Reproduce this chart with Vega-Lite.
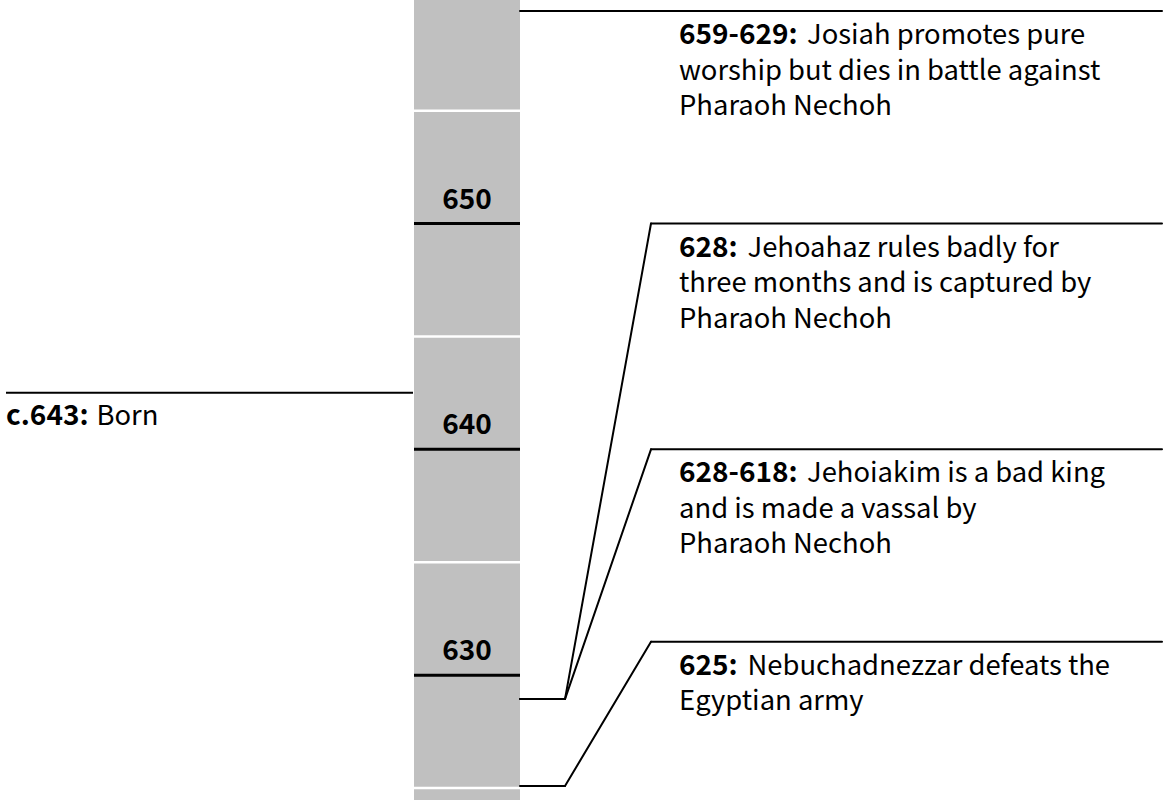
{
  "$schema": "https://vega.github.io/schema/vega-lite/v6.json",
  "width": 1171,
  "height": 800,
  "autosize": {"type": "fit", "contains": "padding"},
  "padding": 0,
  "background": "white",
  "config": {
    "view": {"stroke": null},
    "text": {"font": "Noto Sans CJK KR", "fontSize": 28, "color": "black"}
  },
  "datasets": {
    "segments": [
      {"start": 620, "end": 625}, {"start": 625, "end": 630}, {"start": 630, "end": 635},
      {"start": 635, "end": 640}, {"start": 640, "end": 645}, {"start": 645, "end": 650},
      {"start": 650, "end": 655}, {"start": 655, "end": 660}
    ],
    "marks": [
      {"year": 625, "kind": "half", "label": ""},
      {"year": 630, "kind": "decade", "label": "630"},
      {"year": 635, "kind": "half", "label": ""},
      {"year": 640, "kind": "decade", "label": "640"},
      {"year": 645, "kind": "half", "label": ""},
      {"year": 650, "kind": "decade", "label": "650"},
      {"year": 655, "kind": "half", "label": ""},
      {"year": 660, "kind": "half", "label": ""}
    ],
    "events": [
      {"prefix": "659-629:", "line1": "Josiah promotes pure", "more": "worship but dies in battle against\nPharaoh Nechoh", "year": 659.41, "slot": 659.41},
      {"prefix": "628:", "line1": "Jehoahaz rules badly for", "more": "three months and is captured by\nPharaoh Nechoh", "year": 628.94, "slot": 650},
      {"prefix": "628-618:", "line1": "Jehoiakim is a bad king", "more": "and is made a vassal by\nPharaoh Nechoh", "year": 628.94, "slot": 640},
      {"prefix": "625:", "line1": "Nebuchadnezzar defeats the", "more": "Egyptian army", "year": 625.09, "slot": 631.48}
    ],
    "born": [
      {"prefix": "c.643:", "line1": "Born", "year": 642.51}
    ]
  },
  "layer": [
    {
      "data": {"name": "segments"},
      "mark": {"type": "rect", "color": "#c0c0c0", "clip": true},
      "encoding": {
        "x": {"datum": 414, "type": "quantitative", "scale": {"domain": [0, 1171], "nice": false, "zero": false}, "axis": null},
        "x2": {"datum": 520},
        "y": {"field": "start", "type": "quantitative", "scale": {"domain": [624.47, 659.9], "nice": false, "zero": false}, "axis": null},
        "y2": {"field": "end"}
      }
    },
    {
      "data": {"name": "marks"},
      "transform": [{"filter": "datum.kind == 'half'"}],
      "mark": {"type": "rule", "color": "white", "strokeWidth": 2.5, "clip": true},
      "encoding": {
        "x": {"datum": 414, "type": "quantitative", "scale": {"domain": [0, 1171], "nice": false, "zero": false}, "axis": null},
        "x2": {"datum": 520},
        "y": {"field": "year", "type": "quantitative", "scale": {"domain": [624.47, 659.9], "nice": false, "zero": false}, "axis": null}
      }
    },
    {
      "data": {"name": "marks"},
      "transform": [{"filter": "datum.kind == 'decade'"}],
      "mark": {"type": "rule", "color": "black", "strokeWidth": 3},
      "encoding": {
        "x": {"datum": 414, "type": "quantitative", "scale": {"domain": [0, 1171], "nice": false, "zero": false}, "axis": null},
        "x2": {"datum": 520},
        "y": {"field": "year", "type": "quantitative", "scale": {"domain": [624.47, 659.9], "nice": false, "zero": false}, "axis": null}
      }
    },
    {
      "data": {"name": "marks"},
      "transform": [{"filter": "datum.kind == 'decade'"}],
      "mark": {"type": "text", "fontWeight": "bold", "align": "center", "baseline": "alphabetic", "dy": -15},
      "encoding": {
        "x": {"datum": 467, "type": "quantitative", "scale": {"domain": [0, 1171], "nice": false, "zero": false}, "axis": null},
        "y": {"field": "year", "type": "quantitative", "scale": {"domain": [624.47, 659.9], "nice": false, "zero": false}, "axis": null},
        "text": {"field": "label", "type": "nominal"}
      }
    },
    {
      "data": {"name": "events"},
      "mark": {"type": "rule", "color": "black", "strokeWidth": 2, "strokeCap": "round"},
      "encoding": {
        "x": {"datum": 520, "type": "quantitative", "scale": {"domain": [0, 1171], "nice": false, "zero": false}, "axis": null},
        "x2": {"datum": 565},
        "y": {"field": "year", "type": "quantitative", "scale": {"domain": [624.47, 659.9], "nice": false, "zero": false}, "axis": null}
      }
    },
    {
      "data": {"name": "events"},
      "mark": {"type": "rule", "color": "black", "strokeWidth": 2, "strokeCap": "round"},
      "encoding": {
        "x": {"datum": 565, "type": "quantitative", "scale": {"domain": [0, 1171], "nice": false, "zero": false}, "axis": null},
        "x2": {"datum": 651},
        "y": {"field": "year", "type": "quantitative", "scale": {"domain": [624.47, 659.9], "nice": false, "zero": false}, "axis": null},
        "y2": {"field": "slot"}
      }
    },
    {
      "data": {"name": "events"},
      "mark": {"type": "rule", "color": "black", "strokeWidth": 2, "strokeCap": "round"},
      "encoding": {
        "x": {"datum": 651, "type": "quantitative", "scale": {"domain": [0, 1171], "nice": false, "zero": false}, "axis": null},
        "x2": {"datum": 1162},
        "y": {"field": "slot", "type": "quantitative", "scale": {"domain": [624.47, 659.9], "nice": false, "zero": false}, "axis": null}
      }
    },
    {
      "data": {"name": "events"},
      "mark": {"type": "text", "fontWeight": "bold", "align": "left", "baseline": "alphabetic", "dy": 33},
      "encoding": {
        "x": {"datum": 679, "type": "quantitative", "scale": {"domain": [0, 1171], "nice": false, "zero": false}, "axis": null},
        "y": {"field": "slot", "type": "quantitative", "scale": {"domain": [624.47, 659.9], "nice": false, "zero": false}, "axis": null},
        "text": {"field": "prefix", "type": "nominal"}
      }
    },
    {
      "data": {"name": "events"},
      "mark": {"type": "text", "align": "left", "baseline": "alphabetic", "dy": 33, "fontSize": 27.4,
        "dx": {"expr": "16.5*length(replace(datum.prefix,regexp('[^0-9]','g'),'')) + 10*length(replace(datum.prefix,regexp('[^-]','g'),'')) + 8*length(replace(datum.prefix,regexp('[^:.]','g'),'')) + 14*length(replace(datum.prefix,regexp('[^c]','g'),'')) + 11"}},
      "encoding": {
        "x": {"datum": 679, "type": "quantitative", "scale": {"domain": [0, 1171], "nice": false, "zero": false}, "axis": null},
        "y": {"field": "slot", "type": "quantitative", "scale": {"domain": [624.47, 659.9], "nice": false, "zero": false}, "axis": null},
        "text": {"field": "line1", "type": "nominal"}
      }
    },
    {
      "data": {"name": "events"},
      "mark": {"type": "text", "align": "left", "baseline": "alphabetic", "dy": 68.5, "fontSize": 27.4, "lineBreak": "\n", "lineHeight": 35.5},
      "encoding": {
        "x": {"datum": 679, "type": "quantitative", "scale": {"domain": [0, 1171], "nice": false, "zero": false}, "axis": null},
        "y": {"field": "slot", "type": "quantitative", "scale": {"domain": [624.47, 659.9], "nice": false, "zero": false}, "axis": null},
        "text": {"field": "more", "type": "nominal"}
      }
    },
    {
      "data": {"name": "born"},
      "mark": {"type": "rule", "color": "black", "strokeWidth": 2},
      "encoding": {
        "x": {"datum": 6, "type": "quantitative", "scale": {"domain": [0, 1171], "nice": false, "zero": false}, "axis": null},
        "x2": {"datum": 413},
        "y": {"field": "year", "type": "quantitative", "scale": {"domain": [624.47, 659.9], "nice": false, "zero": false}, "axis": null}
      }
    },
    {
      "data": {"name": "born"},
      "mark": {"type": "text", "fontWeight": "bold", "align": "left", "baseline": "alphabetic", "dy": 32},
      "encoding": {
        "x": {"datum": 6, "type": "quantitative", "scale": {"domain": [0, 1171], "nice": false, "zero": false}, "axis": null},
        "y": {"field": "year", "type": "quantitative", "scale": {"domain": [624.47, 659.9], "nice": false, "zero": false}, "axis": null},
        "text": {"field": "prefix", "type": "nominal"}
      }
    },
    {
      "data": {"name": "born"},
      "mark": {"type": "text", "align": "left", "baseline": "alphabetic", "dy": 32, "fontSize": 27.4,
        "dx": {"expr": "16.5*length(replace(datum.prefix,regexp('[^0-9]','g'),'')) + 10*length(replace(datum.prefix,regexp('[^-]','g'),'')) + 8*length(replace(datum.prefix,regexp('[^:.]','g'),'')) + 14*length(replace(datum.prefix,regexp('[^c]','g'),'')) + 11"}},
      "encoding": {
        "x": {"datum": 6, "type": "quantitative", "scale": {"domain": [0, 1171], "nice": false, "zero": false}, "axis": null},
        "y": {"field": "year", "type": "quantitative", "scale": {"domain": [624.47, 659.9], "nice": false, "zero": false}, "axis": null},
        "text": {"field": "line1", "type": "nominal"}
      }
    }
  ]
}
